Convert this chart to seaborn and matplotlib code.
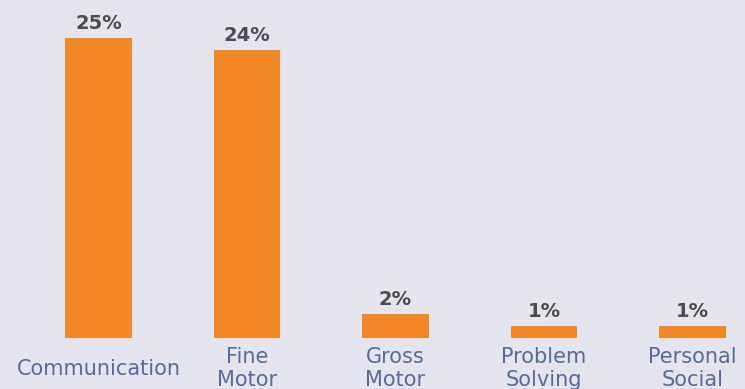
import seaborn as sns
import matplotlib.pyplot as plt
import pandas as pd

# chart values
domains = ["Communication", "Fine\nMotor", "Gross\nMotor", "Problem\nSolving", "Personal\nSocial"]
percents = [25, 24, 2, 1, 1]
value_labels = ["25%", "24%", "2%", "1%", "1%"]

bg = "#E4E5EE"
orange = "#F28726"

sns.set_theme(style="white")
plt.rcParams['font.family'] = ['DejaVu Sans']

df = pd.DataFrame({"domain": domains, "pct": percents})

fig = plt.figure(figsize=(7.45, 3.89), dpi=100, facecolor=bg)
ax = fig.add_axes([0, 51 / 389, 1, 338 / 389])
ax.set_facecolor(bg)

sns.barplot(data=df, x="domain", y="pct", color=orange, saturation=1,
            width=0.45, linewidth=0, ax=ax)

ax.bar_label(ax.containers[0], labels=value_labels, padding=3.5,
             fontsize=14, fontweight="bold", color="#4D4D4D")

ax.set_xlim(-98.5 / 148.5, (745 - 98.5) / 148.5)
ax.set_ylim(0, 338 / 12)
ax.set_xlabel("")
ax.set_ylabel("")
ax.set_yticks([])
ax.set_xticks(range(len(domains)), domains, va="center", linespacing=1.15)
ax.tick_params(axis="x", length=0, pad=22, labelsize=15, labelcolor="#5B6A9A")
sns.despine(ax=ax, left=True, bottom=True)

fig.savefig("out.png", dpi=100, facecolor=bg)
